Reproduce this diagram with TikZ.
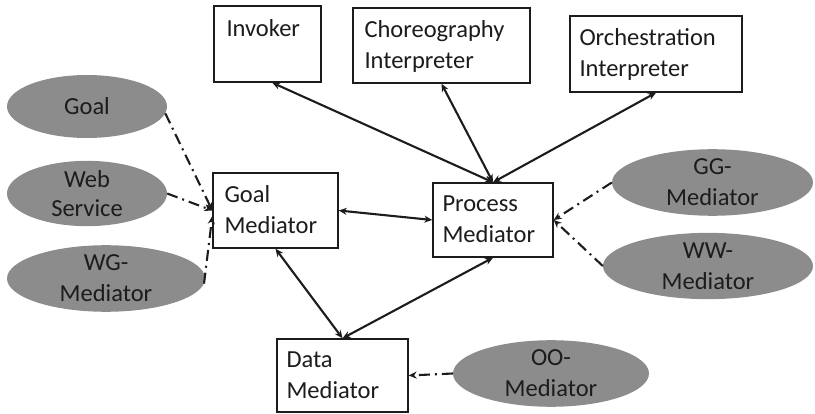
\documentclass[tikz,border=0pt]{standalone}
\usepackage{fontspec}
\setmainfont{Carlito}
\usetikzlibrary{shapes.geometric,arrows.meta,calc}
\definecolor{ovalgray}{RGB}{140,140,140}
\definecolor{inkdark}{RGB}{28,28,28}
\begin{document}
\begin{tikzpicture}[x=1pt,y=-1pt,
  every node/.style={font=\fontsize{24.5}{31}\selectfont, text=inkdark},
  box/.style={draw=inkdark, line width=1.4pt, rectangle, inner sep=0pt, fill=white},
  boxtext/.style={anchor=base west, inner sep=0pt},
  oval/.style={ellipse, fill=ovalgray, draw=none, inner sep=0pt, align=center},
  link/.style={line width=2.1pt, draw=inkdark, {Stealth[length=8pt,width=7pt]}-{Stealth[length=8pt,width=7pt]}},
  feed/.style={line width=2.1pt, draw=inkdark, dash pattern=on 11pt off 5pt on 2pt off 5pt, -{Stealth[length=8pt,width=7pt]}}
]
\useasboundingbox (0,0) rectangle (815,414);

% service components (boxes)
\node[box, minimum width=107, minimum height=76] (inv) at (267.5,44) {};
\node[boxtext] (inv-t) at ($(inv.north west)+(13,31)$) {Invoker};

\node[box, minimum width=177, minimum height=75] (cho) at (441.5,45.5) {};
\node[boxtext] (cho-t) at ($(cho.north west)+(12,30)$) {\begin{tabular}[t]{@{}l@{}}Choreography\\Interpreter\end{tabular}};

\node[box, minimum width=172, minimum height=76] (orc) at (656,54) {};
\node[boxtext] (orc-t) at ($(orc.north west)+(10,30)$) {\begin{tabular}[t]{@{}l@{}}Orchestration\\Interpreter\end{tabular}};

\node[box, minimum width=125, minimum height=75] (gm) at (275.5,210.5) {};
\node[boxtext] (gm-t) at ($(gm.north west)+(12,30)$) {\begin{tabular}[t]{@{}l@{}}Goal\\Mediator\end{tabular}};

\node[box, minimum width=120, minimum height=74] (pm) at (493,220) {};
\node[boxtext] (pm-t) at ($(pm.north west)+(10,29)$) {\begin{tabular}[t]{@{}l@{}}Process\\Mediator\end{tabular}};

\node[box, minimum width=131, minimum height=73] (dm) at (342.5,375.5) {};
\node[boxtext] (dm-t) at ($(dm.north west)+(10,29)$) {\begin{tabular}[t]{@{}l@{}}Data\\Mediator\end{tabular}};

% WSMO elements (ovals)
\node[oval, minimum width=160, minimum height=63] (goal) at (87,106.5) {Goal};
\node[oval, minimum width=160, minimum height=58] (ws) at (87,193.5) {Web\\[-2pt]Service};
\node[oval, minimum width=198, minimum height=63] (wg) at (106,278.5) {WG-\\Mediator};
\node[oval, minimum width=201, minimum height=65] (gg) at (712.5,182.5) {GG-\\Mediator};
\node[oval, minimum width=210, minimum height=62] (ww) at (708,266) {WW-\\Mediator};
\node[oval, minimum width=196, minimum height=65] (oo) at (551,373.5) {OO-\\Mediator};

% interactions between components
\draw[link] (inv.-83) -- (pm.north);
\draw[link] (cho.south) -- (pm.north);
\draw[link] (orc.south) -- (pm.north);
\draw[link] (gm.east) -- (pm.west);
\draw[link] (gm.south) -- (dm.north);
\draw[link] (pm.south) -- (dm.north);

% inputs from the WSMO elements
\draw[feed] (goal.-5) -- (gm.west);
\draw[feed] (ws.east) -- (gm.west);
\draw[feed] (wg.-3) -- (gm.185);
\draw[feed] (gg.west) -- (pm.east);
\draw[feed] (ww.west) -- (pm.east);
\draw[feed] (oo.west) -- (dm.east);
\end{tikzpicture}
\end{document}
